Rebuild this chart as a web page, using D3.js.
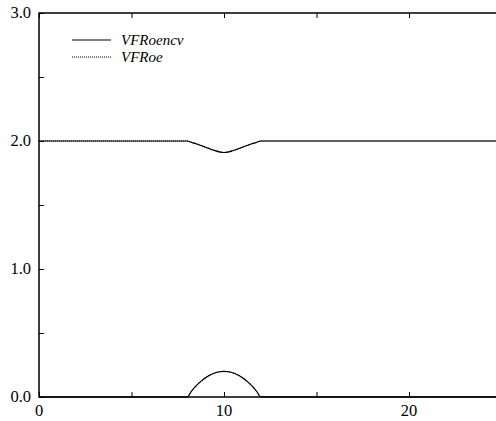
<!DOCTYPE html>
<html><head><meta charset="utf-8">
<script src="https://cdn.jsdelivr.net/npm/d3@7"></script>
<style>html,body{margin:0;padding:0;background:#fff;}svg{display:block;}
text{font-family:"Liberation Serif","Times New Roman",Times,serif;}</style>
</head><body>
<svg id="c" width="496" height="421"></svg>
<script>
// Data
const seriesNames = ["VFRoencv", "VFRoe"];
const xs      = [0, 8, 8.25, 8.5, 8.75, 9, 9.25, 9.5, 9.75, 10, 10.25, 10.5, 10.75, 11, 11.25, 11.5, 11.75, 12, 25];
const upperA  = [2.0, 2.0, 1.989, 1.978, 1.965, 1.952, 1.938, 1.926, 1.915, 1.91, 1.915, 1.926, 1.938, 1.952, 1.965, 1.978, 1.989, 2.0, 2.0];
const lowerA  = [0, 0, 0.047, 0.088, 0.122, 0.150, 0.172, 0.188, 0.197, 0.2, 0.197, 0.188, 0.172, 0.150, 0.122, 0.088, 0.047, 0, 0];
const upperB  = [2.0, 2.0, 1.989, 1.978, 1.965, 1.952, 1.938, 1.926, 1.915, 1.91, 1.915, 1.926, 1.938, 1.952, 1.965, 1.978, 1.989, 2.0, 2.0];
const lowerB  = [0, 0, 0.047, 0.088, 0.122, 0.150, 0.172, 0.188, 0.197, 0.2, 0.197, 0.188, 0.172, 0.150, 0.122, 0.088, 0.047, 0, 0];
const xTickLabels = [0, 10, 20];
const xMinorTicks = [0, 5, 10, 15, 20, 25];
const yTickLabels = [0, 1, 2, 3];
const yMinorTicks = [0, 0.5, 1, 1.5, 2, 2.5, 3];

const svg = d3.select("#c");
const L = 39, R = 501.5, T = 13, B = 397;
const x = d3.scaleLinear().domain([0, 25]).range([L, R]);
const y = d3.scaleLinear().domain([0, 3]).range([B, T]);

// frame
const frame = svg.append("g").attr("stroke", "#000").attr("stroke-width", 1.5).attr("fill", "none");
frame.append("path").attr("d", `M${L},${T}H${R}V${B}H${L}Z`);

const tickStyle = g => { g.select(".domain").remove(); g.selectAll("line").attr("stroke-width", 1); };
svg.append("g").attr("transform", `translate(0,${B})`)
  .call(d3.axisBottom(x).tickValues(xMinorTicks).tickSize(-5).tickFormat("")).call(tickStyle);
svg.append("g").attr("transform", `translate(0,${T})`)
  .call(d3.axisTop(x).tickValues(xMinorTicks).tickSize(-5).tickFormat("")).call(tickStyle);
svg.append("g").attr("transform", `translate(${L},0)`)
  .call(d3.axisLeft(y).tickValues(yMinorTicks).tickSize(-5).tickFormat("")).call(tickStyle);

// labels
svg.append("g").selectAll("text").data(xTickLabels).join("text")
  .attr("x", d => x(d)).attr("y", B + 19)
  .attr("text-anchor", "middle").attr("font-size", 16.5)
  .text(d => d);
svg.append("g").selectAll("text").data(yTickLabels).join("text")
  .attr("x", L - 8).attr("y", d => y(d) + 5)
  .attr("text-anchor", "end").attr("font-size", 16.5)
  .text(d => d.toFixed(1));

// lines
const line = d3.line().x((d, i) => x(xs[i])).y(d => y(d)).curve(d3.curveMonotoneX);
const lines = svg.append("g").attr("fill", "none");
[upperA, lowerA].forEach(s => lines.append("path").attr("d", line(s)).attr("stroke", "#000").attr("stroke-width", 1.1));
[upperB, lowerB].forEach(s => lines.append("path").attr("d", line(s)).attr("stroke", "#000").attr("stroke-width", 1.1).attr("stroke-dasharray", "1,1"));

// legend
const leg = svg.append("g");
const legY = [40, 57];
seriesNames.forEach((n, i) => {
  leg.append("line").attr("x1", 72).attr("x2", 111).attr("y1", legY[i]).attr("y2", legY[i])
    .attr("stroke", "#000").attr("stroke-width", 1).attr("stroke-dasharray", i === 1 ? "1,1" : null);
  leg.append("text").attr("x", 121).attr("y", legY[i] + 4.5)
    .attr("font-style", "italic").attr("font-size", 15)
    .text(n);
});
</script>
</body></html>
